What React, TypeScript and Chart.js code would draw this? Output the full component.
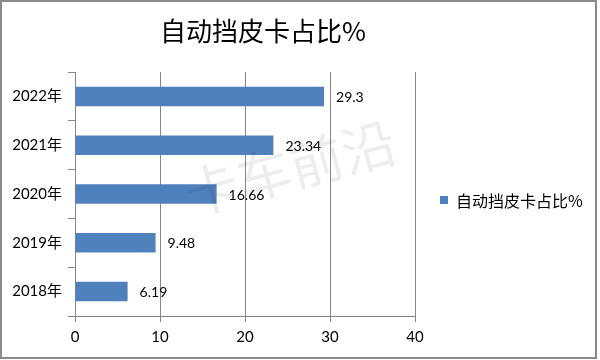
import React, { useEffect, useRef } from "react";
import { Chart, registerables } from "chart.js";

Chart.register(...registerables);

const categories = ["2022年", "2021年", "2020年", "2019年", "2018年"];
const values = [29.3, 23.34, 16.66, 9.48, 6.19];
const seriesName = "自动挡皮卡占比%";
const chartTitle = "自动挡皮卡占比%";
const watermark = "卡车前沿";
const xTicks = [0, 10, 20, 30, 40];

const BAR_COLOR = "#4F81BD";
const AXIS_COLOR = "#868686";
const LATIN = "Lato, 'Noto Sans CJK SC', sans-serif";
const CJK = "'Noto Sans CJK SC', sans-serif";

const decorPlugin = {
  id: "decor",
  afterDraw(chart: any) {
    const ctx = chart.ctx as CanvasRenderingContext2D;
    ctx.save();
    // title
    ctx.fillStyle = "#000";
    ctx.font = `26px ${CJK}`;
    ctx.textAlign = "center";
    ctx.textBaseline = "middle";
    ctx.fillText(chartTitle, 263, 31);

    // data labels
    const meta = chart.getDatasetMeta(0);
    ctx.font = `14px ${LATIN}`;
    ctx.textAlign = "left";
    ctx.textBaseline = "middle";
    meta.data.forEach((bar: any, i: number) => {
      ctx.fillText(String(values[i]), bar.x + 12, bar.y + 1);
    });

    // legend
    ctx.fillStyle = BAR_COLOR;
    ctx.fillRect(440, 196, 8, 8);
    ctx.fillStyle = "#000";
    ctx.font = `16px ${CJK}`;
    ctx.fillText(seriesName, 456, 201);

    // watermark
    ctx.translate(290, 168);
    ctx.rotate(-0.26);
    ctx.fillStyle = "rgba(0,0,0,0.07)";
    ctx.font = `54px ${CJK}`;
    ctx.textAlign = "center";
    ctx.fillText(watermark, 0, 0);
    ctx.restore();

    // outer border
    ctx.save();
    ctx.strokeStyle = "#8a8a8a";
    ctx.lineWidth = 2;
    ctx.strokeRect(1, 1, 595, 357);
    ctx.restore();
  },
};

export default function App() {
  const ref = useRef<HTMLCanvasElement>(null);
  useEffect(() => {
    document.body.style.margin = "0";
    const chart = new Chart(ref.current!, {
      type: "bar",
      data: {
        labels: categories,
        datasets: [
          {
            label: seriesName,
            data: values,
            backgroundColor: BAR_COLOR,
            barPercentage: 0.4,
            categoryPercentage: 1,
          },
        ],
      },
      options: {
        indexAxis: "y",
        animation: false,
        responsive: false,
        maintainAspectRatio: false,
        layout: { padding: { top: 72, right: 185, left: 0, bottom: 0 } },
        plugins: {
          legend: { display: false },
          title: { display: false },
          tooltip: { enabled: false },
        },
        scales: {
          x: {
            min: 0,
            max: 40,
            afterBuildTicks: (s: any) => {
              s.ticks = xTicks.map((v) => ({ value: v }));
            },
            afterFit: (s: any) => {
              s.height = 44;
            },
            ticks: {
              color: "#000",
              font: { family: LATIN, size: 15 },
              padding: 6,
            },
            grid: { color: AXIS_COLOR, tickLength: 6, lineWidth: 1 },
            border: { color: AXIS_COLOR, width: 1 },
          },
          y: {
            afterFit: (s: any) => {
              s.width = 75;
            },
            ticks: {
              color: "#000",
              font: { family: LATIN, size: 15 },
              padding: 6,
            },
            grid: {
              drawOnChartArea: false,
              drawTicks: true,
              tickLength: 7,
              offset: true,
              color: AXIS_COLOR,
            },
            border: { color: AXIS_COLOR, width: 1 },
          },
        },
      },
      plugins: [decorPlugin],
    });
    return () => chart.destroy();
  }, []);
  return (
    <div style={{ position: "absolute", left: 0, top: 0, width: 600, height: 360, background: "#fff" }}>
      <canvas ref={ref} width={600} height={360} />
    </div>
  );
}
